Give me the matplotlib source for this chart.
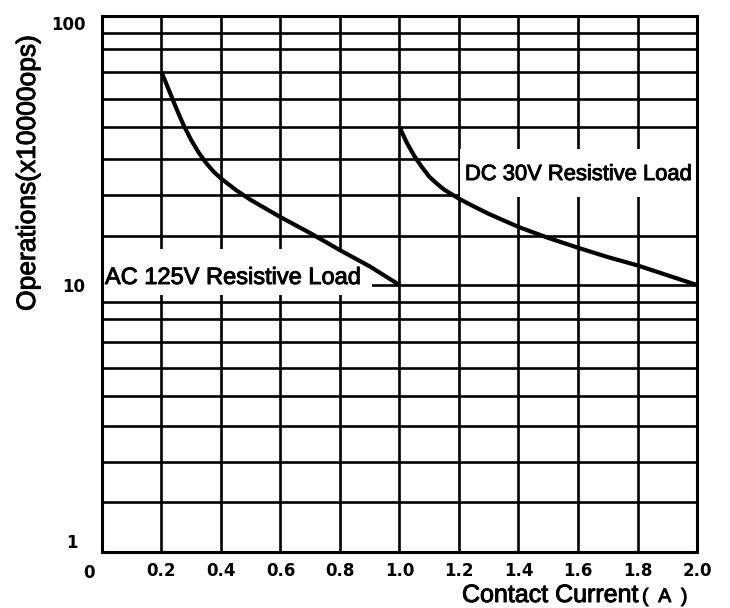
import numpy as np
import matplotlib
matplotlib.use("Agg")
import matplotlib.pyplot as plt
import matplotlib.patheffects as pe
from matplotlib.patches import Rectangle
from matplotlib.transforms import ScaledTranslation


# curve data
ac_x = [0.2, 0.225, 0.25, 0.275, 0.3, 0.325, 0.35, 0.375, 0.4, 0.45, 0.5,
        0.6, 0.7, 0.8, 0.9, 1.0]
ac_y = [70, 63.3, 56.6, 50.5, 45.9, 42.0, 38.9, 36.5, 34.6, 31.4, 28.8,
        24.6, 20.7, 17.1, 13.8, 10]

dc_x = [1.0, 1.025, 1.05, 1.075, 1.1, 1.125, 1.15, 1.2, 1.25, 1.3, 1.4,
        1.5, 1.6, 1.7, 1.8, 1.9, 2.0]
dc_y = [50, 45.0, 40.9, 37.8, 35.1, 33.2, 31.5, 29.1, 27.2, 25.4, 22.2,
        19.6, 17.6, 15.7, 14.0, 12.0, 10]

x_ticks = [0.0, 0.2, 0.4, 0.6, 0.8, 1.0, 1.2, 1.4, 1.6, 1.8, 2.0]
x_labels = ["0", "0.2", "0.4", "0.6", "0.8", "1.0", "1.2", "1.4", "1.6", "1.8", "2.0"]
y_ticks = [1, 10, 100]
y_labels = ["1", "10", "100"]

# the printed chart is only roughly logarithmic: grid values and where they sit
grid_vals = [1, 2, 3, 4, 5, 6, 7, 8, 9, 10, 20, 30, 40, 50, 60, 70, 80, 90, 100]
grid_pos = [0.0, 0.0933, 0.1679, 0.2351, 0.2910, 0.3433, 0.3918, 0.4347,
            0.4664, 0.4981, 0.5896, 0.6660, 0.7332, 0.7929, 0.8451, 0.8955,
            0.9384, 0.9683, 1.0]


def forward(v):
    return np.interp(v, grid_vals, grid_pos)


def inverse(f):
    return np.interp(f, grid_pos, grid_vals)


fig = plt.figure(figsize=(7.3, 6.08), dpi=100)
ax = fig.add_axes([0.1397, 0.0921, 0.8151, 0.8816])

ax.set_yscale("function", functions=(forward, inverse))
ax.set_xlim(0, 2.0)
ax.set_ylim(1, 100)

ax.set_xticks(x_ticks, x_labels)
ax.set_yticks(y_ticks, y_labels)
ax.set_yticks(grid_vals, minor=True)
ax.set_xticks([], minor=True)
ax.tick_params(which="both", length=0)
ax.tick_params(axis="x", pad=7)
ax.tick_params(axis="y", pad=12)
ax.grid(True, which="both", color="black", linewidth=1.9)

for lab in ax.get_xticklabels() + ax.get_yticklabels():
    lab.set_fontfamily("DejaVu Sans")
    lab.set_fontweight("bold")
    lab.set_fontsize(12)

ylabs = ax.get_yticklabels()
ylabs[0].set_va("bottom")
ylabs[0].set_transform(ylabs[0].get_transform() + ScaledTranslation(-0.08, 0, fig.dpi_scale_trans))
ylabs[2].set_va("top")
xlabs = ax.get_xticklabels()
xlabs[0].set_transform(xlabs[0].get_transform() + ScaledTranslation(-0.13, -0.02, fig.dpi_scale_trans))

for s in ax.spines.values():
    s.set_color("black")
    s.set_linewidth(2.2)
    s.set_zorder(4)

# white areas behind the curve labels
ax.add_patch(Rectangle((0.0, 0.4795), 0.454, 0.0858, transform=ax.transAxes,
                       facecolor="white", edgecolor="none", zorder=2.6))
ax.add_patch(Rectangle((0.6017, 0.6623), 0.3983, 0.0896, transform=ax.transAxes,
                       facecolor="white", edgecolor="none", zorder=2.6))

ax.plot(ac_x, ac_y, color="black", linewidth=3, zorder=5,
        solid_capstyle="butt", solid_joinstyle="round")
ax.plot(dc_x, dc_y, color="black", linewidth=3, zorder=5,
        solid_capstyle="butt", solid_joinstyle="round")

heavy = [pe.withStroke(linewidth=0.7, foreground="black")]

ax.text(0.005, 0.5, "AC 125V Resistive Load", transform=ax.transAxes,
        family="Liberation Sans", fontsize=17, ha="left", va="baseline", zorder=3,
        path_effects=heavy)
ax.text(0.61, 0.694, "DC 30V Resistive Load", transform=ax.transAxes,
        family="Liberation Sans", fontsize=15.8, ha="left", va="baseline", zorder=3,
        path_effects=heavy)

ax.set_ylabel("Operations(x10000ops)", family="Liberation Sans", fontsize=19,
              va="center", path_effects=heavy)
ax.yaxis.set_label_coords(-0.1244, 0.707)
ax.set_xlabel("Contact Current", family="Liberation Sans", fontsize=18,
              ha="left", va="baseline", path_effects=heavy)
ax.xaxis.set_label_coords(0.605, -0.0933)
ax.text(0.9076, -0.0933, "(  A  )", transform=ax.transAxes, ha="left", va="baseline",
        family="Liberation Sans", fontsize=14, clip_on=False, path_effects=heavy)

fig.savefig("out.png", dpi=100)
